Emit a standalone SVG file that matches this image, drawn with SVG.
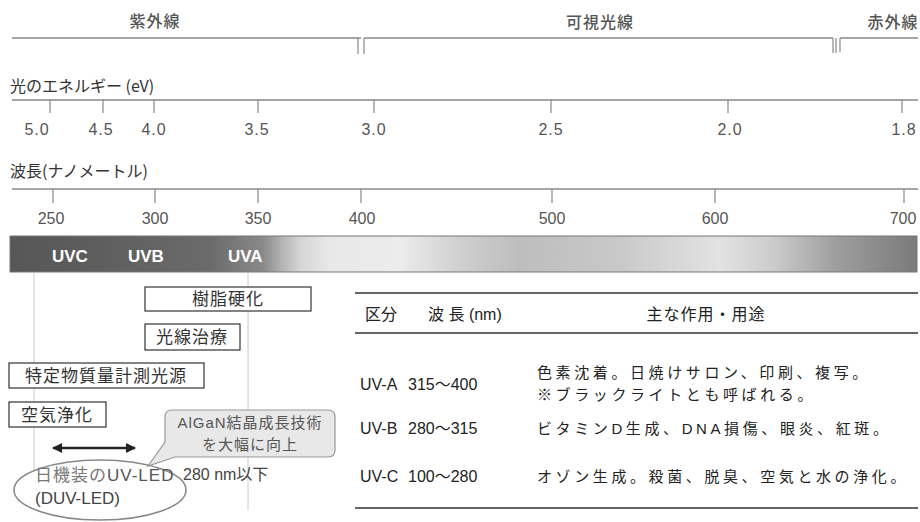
<svg xmlns="http://www.w3.org/2000/svg" width="920" height="522" viewBox="0 0 920 522">
<style>
.jp{font-family:"Noto Sans CJK JP","Liberation Sans",sans-serif}
.mix{font-family:"Liberation Sans","Noto Sans CJK JP",sans-serif}
.region{font-size:16px;fill:#555;letter-spacing:1px;font-weight:500}
.axislbl{font-size:16px;fill:#333}
.ev{font-size:16px;fill:#555;letter-spacing:1px;text-anchor:middle}
.nm{font-size:16px;fill:#555;text-anchor:middle}
.axis{stroke:#888;stroke-width:1.3;fill:none}
.tick{stroke:#888;stroke-width:1.2}
.box{fill:#fff;stroke:#333;stroke-width:1.2}
.boxt{font-size:17px;fill:#333;letter-spacing:1px;text-anchor:middle}
.uv{font-family:"Liberation Sans",sans-serif;font-weight:bold;font-size:17px;fill:#fff}
.tbl{font-size:16px;fill:#222}
.tbj{font-size:15px;fill:#222;letter-spacing:3.6px}
.rule{stroke:#333;stroke-width:1.5}
.guide{stroke:#ccc;stroke-width:1}
</style>
<defs>
<linearGradient id="spec" x1="10" y1="0" x2="917" y2="0" gradientUnits="userSpaceOnUse">
<stop offset="0" stop-color="#575757"/>
<stop offset="0.1" stop-color="#5e5e5e"/>
<stop offset="0.22" stop-color="#6b6b6b"/>
<stop offset="0.28" stop-color="#8a8a8a"/>
<stop offset="0.298" stop-color="#b0b0b0"/>
<stop offset="0.32" stop-color="#d5d5d5"/>
<stop offset="0.353" stop-color="#e8e8e8"/>
<stop offset="0.43" stop-color="#ececec"/>
<stop offset="0.496" stop-color="#cfcfcf"/>
<stop offset="0.562" stop-color="#bdbdbd"/>
<stop offset="0.673" stop-color="#c9c9c9"/>
<stop offset="0.783" stop-color="#e2e2e2"/>
<stop offset="0.838" stop-color="#cdcdcd"/>
<stop offset="0.915" stop-color="#9c9c9c"/>
<stop offset="1" stop-color="#7a7a7a"/>
</linearGradient>
<marker id="ah" viewBox="0 0 10 10" refX="9" refY="5" markerWidth="4" markerHeight="4" orient="auto-start-reverse">
<path d="M0,0 L10,5 L0,10 z" fill="#222"/>
</marker>
</defs>
<rect width="920" height="522" fill="#fff"/>

<g id="regions">
<text class="jp region" x="155" y="27" text-anchor="middle">紫外線</text>
<text class="jp region" x="600" y="28" text-anchor="middle">可視光線</text>
<text class="jp region" x="893" y="28" text-anchor="middle">赤外線</text>
<line x1="12" y1="38" x2="361" y2="38" class="axis" stroke="#999"/>
<line x1="358" y1="38" x2="358" y2="54" class="tick"/>
<line x1="364" y1="38" x2="364" y2="54" class="tick"/>
<line x1="364" y1="38" x2="833" y2="38" class="axis"/>
<line x1="833" y1="38" x2="833" y2="53" class="tick"/>
<line x1="836" y1="38" x2="836" y2="53" class="tick" stroke="#aaa"/>
<line x1="840" y1="38" x2="918" y2="38" class="axis"/>
<line x1="840" y1="38" x2="840" y2="52" class="tick"/>
</g>

<g id="energy-axis">
<text class="jp axislbl" x="10" y="92">光のエネルギー (eV)</text>
<line x1="12" y1="100" x2="918" y2="100" class="axis"/>
<line x1="50" y1="100" x2="50" y2="113" class="tick"/>
<line x1="103" y1="100" x2="103" y2="113" class="tick"/>
<line x1="154" y1="100" x2="154" y2="113" class="tick"/>
<line x1="258" y1="100" x2="258" y2="113" class="tick"/>
<line x1="374" y1="100" x2="374" y2="113" class="tick"/>
<line x1="551" y1="100" x2="551" y2="113" class="tick"/>
<line x1="728" y1="100" x2="728" y2="113" class="tick"/>
<line x1="902" y1="100" x2="902" y2="113" class="tick"/>
<text class="mix ev" x="37" y="135">5.0</text>
<text class="mix ev" x="101" y="135">4.5</text>
<text class="mix ev" x="154" y="135">4.0</text>
<text class="mix ev" x="257" y="135">3.5</text>
<text class="mix ev" x="374" y="135">3.0</text>
<text class="mix ev" x="551" y="135">2.5</text>
<text class="mix ev" x="730" y="135">2.0</text>
<text class="mix ev" x="904" y="135">1.8</text>
</g>

<g id="wavelength-axis">
<text class="jp axislbl" x="10" y="177">波長(ナノメートル)</text>
<line x1="12" y1="189" x2="918" y2="189" class="axis"/>
<line x1="53" y1="189" x2="53" y2="203" class="tick"/>
<line x1="155" y1="189" x2="155" y2="203" class="tick"/>
<line x1="258" y1="189" x2="258" y2="203" class="tick"/>
<line x1="361" y1="189" x2="361" y2="203" class="tick"/>
<line x1="552" y1="189" x2="552" y2="203" class="tick"/>
<line x1="715" y1="189" x2="715" y2="203" class="tick"/>
<line x1="904" y1="189" x2="904" y2="203" class="tick"/>
<text class="mix nm" x="51" y="224">250</text>
<text class="mix nm" x="155" y="224">300</text>
<text class="mix nm" x="258" y="224">350</text>
<text class="mix nm" x="362" y="224">400</text>
<text class="mix nm" x="552" y="224">500</text>
<text class="mix nm" x="715" y="224" fill="#888">600</text>
<text class="mix nm" x="903" y="224" fill="#333">700</text>
</g>

<g id="spectrum-bar">
<rect x="10" y="236" width="907" height="36" fill="url(#spec)" stroke="#777" stroke-width="1"/>
<text class="uv" x="52" y="262">UVC</text>
<text class="uv" x="128" y="262">UVB</text>
<text class="uv" x="228" y="262">UVA</text>
</g>

<g id="guides">
<line x1="34" y1="273" x2="34" y2="470" class="guide"/>
<line x1="248" y1="273" x2="248" y2="510" class="guide"/>
</g>

<g id="node-jushi">
<rect x="145" y="287" width="166" height="24" class="box"/>
<text class="jp boxt" x="228" y="305">樹脂硬化</text>
</g>
<g id="node-kosen">
<rect x="145" y="324" width="95" height="26" class="box"/>
<text class="jp boxt" x="192" y="343">光線治療</text>
</g>
<g id="node-tokutei">
<rect x="9" y="363" width="195" height="25" class="box"/>
<text class="jp boxt" x="106" y="382">特定物質量計測光源</text>
</g>
<g id="node-kuki">
<rect x="9" y="402" width="97" height="25" class="box"/>
<text class="jp boxt" x="57" y="421">空気浄化</text>
</g>

<g id="node-callout">
<path d="M172,410 H328 Q335,410 335,417 V450 Q335,457 328,457 H175 L148,466 L165,442 V417 Q165,410 172,410 Z" fill="#e8e8e8" stroke="#999" stroke-width="1.2"/>
<text class="mix" x="250" y="428" font-size="15" fill="#555" letter-spacing="1" text-anchor="middle">AlGaN結晶成長技術<tspan x="250" dy="22">を大幅に向上</tspan></text>
</g>

<g id="node-range">
<text class="mix" x="183" y="480" font-size="16" fill="#444">280 nm以下</text>
</g>

<g id="node-duvled">
<ellipse cx="100" cy="490" rx="86" ry="30" fill="none" stroke="#888" stroke-width="1.5"/>
<text class="mix" x="35" y="481" font-size="17" fill="#777" letter-spacing="1">日機装の<tspan fill="#555">UV-LED</tspan><tspan x="35" dy="23" fill="#444" letter-spacing="0">(DUV-LED)</tspan></text>
</g>

<g id="connectors">
<line x1="53" y1="448" x2="135" y2="448" stroke="#222" stroke-width="2.5" marker-start="url(#ah)" marker-end="url(#ah)"/>
</g>

<g id="table">
<line x1="355" y1="293" x2="918" y2="293" class="rule"/>
<text class="jp tbl" x="365" y="320">区分</text>
<text class="mix tbl" x="428" y="320">波 長 (nm)</text>
<text class="jp tbl" x="706" y="320" text-anchor="middle" letter-spacing="1">主な作用・用途</text>
<line x1="355" y1="333" x2="918" y2="333" class="rule" stroke-width="1.2"/>
<text class="mix tbl" x="360" y="390">UV-A</text>
<text class="mix tbl" x="408" y="390">315〜400</text>
<text class="jp tbj" x="537" y="378">色素沈着。日焼けサロン、印刷、複写。<tspan x="537" dy="22">※ブラックライトとも呼ばれる。</tspan></text>
<text class="mix tbl" x="360" y="434">UV-B</text>
<text class="mix tbl" x="408" y="434">280〜315</text>
<text class="mix tbj" x="537" y="434">ビタミンD生成、DNA損傷、眼炎、紅斑。</text>
<text class="mix tbl" x="360" y="482">UV-C</text>
<text class="mix tbl" x="408" y="482">100〜280</text>
<text class="jp tbj" x="537" y="482">オゾン生成。殺菌、脱臭、空気と水の浄化。</text>
<line x1="355" y1="508" x2="918" y2="508" class="rule"/>
</g>
</svg>
